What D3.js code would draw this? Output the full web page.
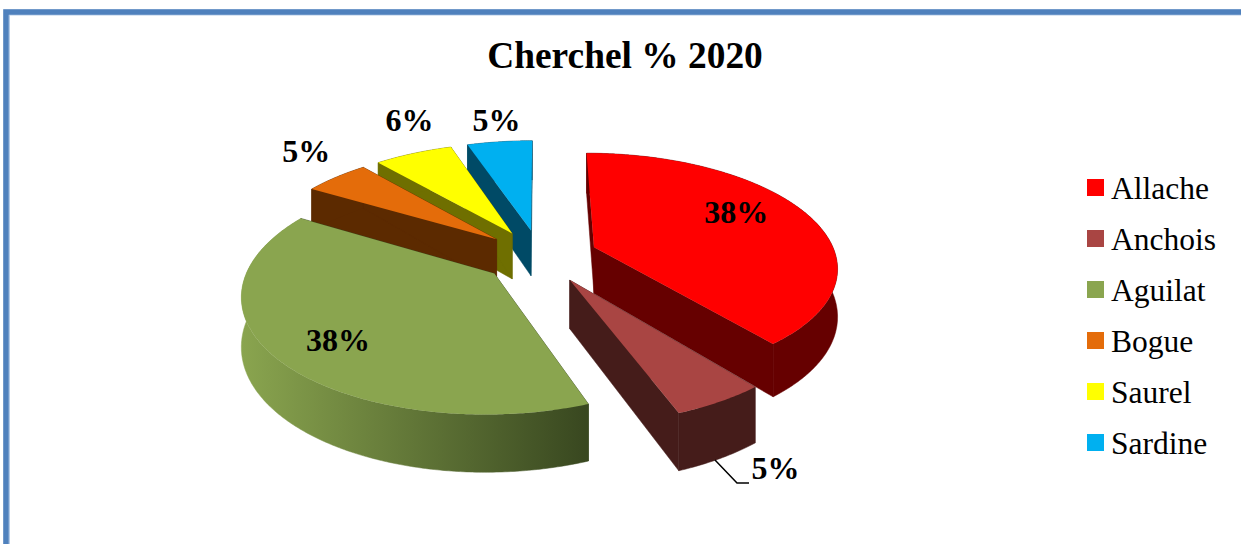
<!DOCTYPE html>
<html>
<head>
<meta charset="utf-8">
<script src="https://cdn.jsdelivr.net/npm/d3@7"></script>
<style>
  html, body { margin: 0; padding: 0; background: #fff; overflow: hidden; }
  text { font-family: "Liberation Serif", serif; fill: #000; }
</style>
</head>
<body>
<div id="graph"></div>
<script>
const categories = ['Allache', 'Anchois', 'Aguilat', 'Bogue', 'Saurel', 'Sardine'];
const shares = [38, 5, 38, 5, 6, 5];
const topColors = ['#ff0000', '#a94543', '#8aa54f', '#e46c0a', '#ffff00', '#00b0f0'];
const wallColors = ['#660000', '#451c1a', 'url(#aguilatWall)', '#5c2a00', '#6f6f00', '#004a66'];

const width = 1241, height = 544;

// pie geometry, fitted by eye to the picture
const cx = 540, cy = 256;
const radius = 242, explode = 58, thickness = 47;
const camera = 1500, tilt = 0.462;

// label spot: radius in the pie plane, then a small nudge in px
const labelRadius = [165, 270, 165, 270, 270, 270];
const labelNudge = [[-4, 0], [35, 60], [-13, 22], [-13, -9], [6, -14], [0, -2]];

const svg = d3.select("#graph")
    .append("svg")
    .attr("width", width)
    .attr("height", height);

// frame, only the top and left edges are inside the window
svg.append("rect")
    .attr("x", 9.5).attr("y", 15)
    .attr("width", width + 40).attr("height", height + 40)
    .attr("fill", "none")
    .attr("stroke", "#b4cbe8")
    .attr("stroke-width", 1);
svg.append("rect")
    .attr("x", 6).attr("y", 12)
    .attr("width", width + 40).attr("height", height + 40)
    .attr("fill", "none")
    .attr("stroke", "#4f81bd")
    .attr("stroke-width", 5.6);

svg.append("text")
    .attr("x", 625).attr("y", 68)
    .style("text-anchor", "middle")
    .style("font-size", "37.4px")
    .style("font-weight", "bold")
    .text("Cherchel % 2020");

const grad = svg.append("defs").append("linearGradient")
    .attr("id", "aguilatWall")
    .attr("gradientUnits", "userSpaceOnUse")
    .attr("x1", 240).attr("x2", 585).attr("y1", 0).attr("y2", 0);
grad.append("stop").attr("offset", "0%").attr("stop-color", "#8aa54f");
grad.append("stop").attr("offset", "100%").attr("stop-color", "#394820");

const pie = d3.pie().sort(null).value(function (d) { return d; });
const arcs = pie(shares);

// plane point -> screen, with perspective towards the viewer
function project(px, py, h) {
    const s = camera / (camera + py);
    return [cx + px * s, cy - tilt * py * s + h * s];
}

function slicePoint(d, angle, r, h) {
    const mid = (d.startAngle + d.endAngle) / 2;
    const px = explode * Math.sin(mid) + r * Math.sin(angle);
    const py = explode * Math.cos(mid) + r * Math.cos(angle);
    return project(px, py, h);
}

function arcAngles(d) {
    const list = d3.range(d.startAngle, d.endAngle, 0.01);
    list.push(d.endAngle);
    return list;
}

const line = d3.line();

function topPath(d) {
    const pts = arcAngles(d).map(a => slicePoint(d, a, radius, 0));
    pts.push(slicePoint(d, 0, 0, 0));
    return line(pts) + "Z";
}

function outerWall(d) {
    const angles = arcAngles(d);
    const upper = angles.map(a => slicePoint(d, a, radius, 0));
    const lower = angles.slice().reverse().map(a => slicePoint(d, a, radius, thickness));
    return line(upper.concat(lower)) + "Z";
}

function sideWall(d, angle) {
    return line([
        slicePoint(d, 0, 0, 0),
        slicePoint(d, angle, radius, 0),
        slicePoint(d, angle, radius, thickness),
        slicePoint(d, 0, 0, thickness)
    ]) + "Z";
}

// paint from the back of the pie to the front
const order = arcs.slice().sort(function (a, b) {
    return Math.cos((b.startAngle + b.endAngle) / 2) - Math.cos((a.startAngle + a.endAngle) / 2);
});

const slices = svg.selectAll(".slice")
    .data(order)
    .enter()
    .append("g")
    .attr("class", "slice");

const sideColor = d => d.index == 2 ? "#394820" : wallColors[d.index];

slices.append("path")
    .attr("d", d => sideWall(d, d.startAngle))
    .attr("fill", sideColor)
    .attr("stroke", sideColor)
    .attr("stroke-width", 0.5);
slices.append("path")
    .attr("d", d => sideWall(d, d.endAngle))
    .attr("fill", sideColor)
    .attr("stroke", sideColor)
    .attr("stroke-width", 0.5);
slices.append("path")
    .attr("d", outerWall)
    .attr("fill", d => wallColors[d.index])
    .attr("stroke", d => wallColors[d.index])
    .attr("stroke-width", 0.5);
slices.append("path")
    .attr("d", topPath)
    .attr("fill", d => topColors[d.index]);

// leader line of the Anchois label
svg.append("path")
    .attr("d", "M715,460L737,483L749,483")
    .attr("fill", "none")
    .attr("stroke", "#000")
    .attr("stroke-width", 1.5);

svg.selectAll(".pct")
    .data(arcs)
    .enter()
    .append("text")
    .attr("class", "pct")
    .attr("transform", function (d, i) {
        const mid = (d.startAngle + d.endAngle) / 2;
        const p = slicePoint(d, mid, labelRadius[i], 0);
        return "translate(" + (p[0] + labelNudge[i][0]) + "," + (p[1] + labelNudge[i][1]) + ")";
    })
    .style("text-anchor", "middle")
    .style("font-size", "32px")
    .style("font-weight", "bold")
    .text(function (d) { return d.value + "%"; });

// legend
const legendY = d3.scalePoint().domain(categories).range([179, 434]);

const legend = svg.selectAll(".legend")
    .data(categories)
    .enter()
    .append("g")
    .attr("class", "legend")
    .attr("transform", function (d) { return "translate(1087," + legendY(d) + ")"; });

legend.append("rect")
    .attr("width", 17)
    .attr("height", 17)
    .attr("fill", function (d, i) { return topColors[i]; });

legend.append("text")
    .attr("x", 24)
    .attr("y", 20)
    .style("font-size", "31.5px")
    .text(function (d) { return d; });
</script>
</body>
</html>
